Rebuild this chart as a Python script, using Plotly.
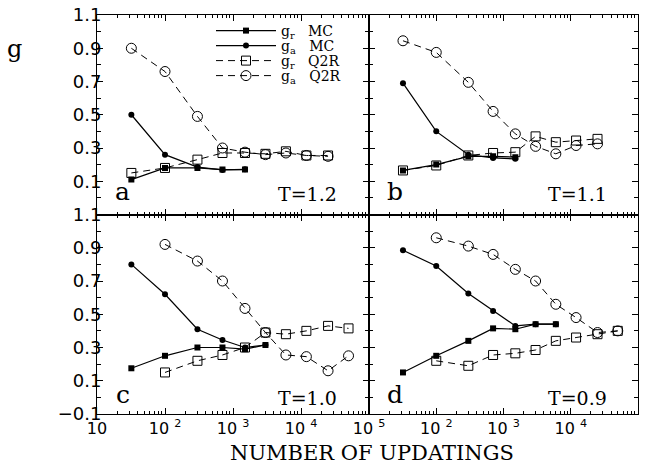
import plotly.graph_objects as go

# ---- data ----
T_MC = [32, 100, 300, 700, 1500, 3000, 6000]
T_Q2R = [32, 100, 300, 700, 1500, 3000, 6000, 12000, 25000, 50000]

a_mc_gr = [0.11, 0.18, 0.18, 0.17, 0.17]
a_mc_ga = [0.50, 0.26, 0.185, 0.168, 0.172]
a_q2r_gr = [0.15, 0.18, 0.23, 0.27, 0.27, 0.265, 0.28, 0.255, 0.255]
a_q2r_ga = [0.90, 0.76, 0.49, 0.30, 0.275, 0.26, 0.27, 0.255, 0.25]

b_mc_gr = [0.165, 0.20, 0.25, 0.25, 0.245]
b_mc_ga = [0.69, 0.40, 0.26, 0.24, 0.235]
b_q2r_gr = [0.165, 0.195, 0.255, 0.27, 0.275, 0.37, 0.335, 0.345, 0.355]
b_q2r_ga = [0.945, 0.875, 0.695, 0.52, 0.385, 0.31, 0.265, 0.315, 0.325]

c_mc_gr = [0.175, 0.25, 0.30, 0.30, 0.29, 0.315]
c_mc_ga = [0.80, 0.62, 0.41, 0.345, 0.30, 0.315]
c_q2r_gr = [0.15, 0.22, 0.255, 0.30, 0.39, 0.38, 0.40, 0.43, 0.415]
c_q2r_ga = [0.92, 0.82, 0.70, 0.535, 0.39, 0.255, 0.245, 0.16, 0.25]

d_mc_gr = [0.15, 0.25, 0.34, 0.415, 0.41, 0.44, 0.44]
d_mc_ga = [0.885, 0.79, 0.625, 0.52, 0.43, 0.44, 0.44]
d_q2r_gr = [0.22, 0.19, 0.255, 0.265, 0.285, 0.34, 0.36, 0.38, 0.40]
d_q2r_ga = [0.96, 0.91, 0.86, 0.77, 0.70, 0.56, 0.48, 0.39, 0.40]

panel_letters = ["a", "b", "c", "d"]
temps = ["T=1.2", "T=1.1", "T=1.0", "T=0.9"]
NB = "\u00a0"
series_names = ["g<sub>r</sub>" + NB * 3 + "MC", "g<sub>a</sub>" + NB * 3 + "MC",
                "g<sub>r</sub>" + NB * 3 + "Q2R", "g<sub>a</sub>" + NB * 3 + "Q2R"]
x_tickvals = [10, 100, 1000, 10000, 100000]
x_ticktext = ["10", "10 <sup>2</sup>", "10 <sup>3</sup>", "10 <sup>4</sup>", "10 <sup>5</sup>"]
y_tickvals = [-0.1, 0.1, 0.3, 0.5, 0.7, 0.9, 1.1]
y_ticktext = ["\u22120.1", "0.1", "0.3", "0.5", "0.7", "0.9", "1.1"]

SERIF = "DejaVu Serif"
SANS = "DejaVu Sans"

panels = [
    (a_mc_gr, a_mc_ga, a_q2r_gr, a_q2r_ga, 0),
    (b_mc_gr, b_mc_ga, b_q2r_gr, b_q2r_ga, 0),
    (c_mc_gr, c_mc_ga, c_q2r_gr, c_q2r_ga, 1),
    (d_mc_gr, d_mc_ga, d_q2r_gr, d_q2r_ga, 1),
]

legend_ids = ["legend", "legend2", "legend3", "legend4"]
styles = [
    dict(line=dict(color="black", width=1.2), marker=dict(symbol="square", size=6, color="black")),
    dict(line=dict(color="black", width=1.2), marker=dict(symbol="circle", size=6, color="black")),
    dict(line=dict(color="black", width=1, dash="7px,5px"),
         marker=dict(symbol="square-open", size=9, color="black", line=dict(width=1, color="black"))),
    dict(line=dict(color="black", width=1, dash="7px,5px"),
         marker=dict(symbol="circle-open", size=10, color="black", line=dict(width=1, color="black"))),
]

fig = go.Figure()
for i, (mgr, mga, qgr, qga, qs) in enumerate(panels):
    xa = "x" if i == 0 else f"x{i+1}"
    ya = "y" if i == 0 else f"y{i+1}"
    tq = T_Q2R[qs:qs + len(qgr)]
    xs = [T_MC[:len(mgr)], T_MC[:len(mga)], tq, tq]
    ys = [mgr, mga, qgr, qga]
    for k in range(4):
        fig.add_trace(go.Scatter(x=xs[k], y=ys[k], mode="lines+markers",
                                 name=series_names[k], showlegend=(i == 0),
                                 legend=legend_ids[k], xaxis=xa, yaxis=ya, **styles[k]))

W = 541.0
H = 399.0
xsplit = 272.0 / W
x_minor = [m * 10 ** e for e in range(1, 5) for m in range(2, 10)]
y_minor = [round(0.2 * k, 2) for k in range(6)]

def xaxis(domain, labels, anchor, ticktext):
    return dict(type="log", range=[1, 5], domain=domain, anchor=anchor, automargin=False,
                showline=True, linecolor="black", linewidth=1, mirror="ticks",
                ticks="inside", ticklen=6, tickwidth=1, tickcolor="black",
                showgrid=False, zeroline=False,
                tickmode="array", tickvals=x_tickvals, ticktext=ticktext,
                showticklabels=labels, ticklabelstandoff=0,
                tickfont=dict(family=SANS, size=16, color="black"),
                minor=dict(ticks="inside", ticklen=3, tickwidth=1, tickcolor="black",
                           tickmode="array", tickvals=x_minor, showgrid=False))

def yaxis(domain, labels, anchor, top):
    tv = y_tickvals[1:] if top else y_tickvals
    tt = y_ticktext[1:] if top else y_ticktext
    return dict(range=[-0.1, 1.1], domain=domain, anchor=anchor, automargin=False,
                showline=True, linecolor="black", linewidth=1, mirror="ticks",
                ticks="inside", ticklen=6, tickwidth=1, tickcolor="black",
                showgrid=False, zeroline=False,
                tickmode="array", tickvals=tv, ticktext=tt,
                showticklabels=labels, ticklabelstandoff=-9,
                tickfont=dict(family=SANS, size=18, color="black"),
                minor=dict(ticks="inside", ticklen=4, tickwidth=1, tickcolor="black",
                           tickmode="array", tickvals=y_minor, showgrid=False))

right_text = [""] + x_ticktext[1:]
fig.update_layout(
    xaxis=xaxis([0, xsplit], False, "y", x_ticktext),
    yaxis=yaxis([0.5, 1], True, "x", True),
    xaxis2=xaxis([xsplit, 1], False, "y2", right_text),
    yaxis2=yaxis([0.5, 1], False, "x2", True),
    xaxis3=xaxis([0, xsplit], True, "y3", x_ticktext),
    yaxis3=yaxis([0, 0.5], True, "x3", False),
    xaxis4=xaxis([xsplit, 1], True, "y4", right_text),
    yaxis4=yaxis([0, 0.5], False, "x4", False),
)

letter_y = [0.035, 0.035, 0.015, 0.015]
temp_y = [0.04, 0.04, 0.015, 0.015]
annotations = []
for i in range(4):
    xr = "x domain" if i == 0 else f"x{i+1} domain"
    yr = "y domain" if i == 0 else f"y{i+1} domain"
    annotations.append(dict(text=panel_letters[i], xref=xr, yref=yr, x=0.095, y=letter_y[i],
                            xanchor="center", yanchor="bottom", showarrow=False,
                            font=dict(family=SERIF, size=25, color="black")))
    annotations.append(dict(text=temps[i], xref=xr, yref=yr, x=0.775, y=temp_y[i],
                            xanchor="center", yanchor="bottom", showarrow=False,
                            font=dict(family=SERIF, size=19, color="black")))
annotations.append(dict(text="g", xref="paper", yref="paper", x=(14 - 97) / W,
                        y=1 - (49 - 15) / H, xanchor="center", yanchor="middle",
                        showarrow=False, font=dict(family=SERIF, size=24, color="black")))
annotations.append(dict(text="NUMBER OF UPDATINGS", xref="paper", yref="paper",
                        x=(372 - 97) / W, y=-(453 - 414) / H, xanchor="center",
                        yanchor="middle", showarrow=False,
                        font=dict(family=SERIF, size=21, color="black")))

legend_rows = [31, 46, 61, 76]
legend_common = dict(xanchor="left", yanchor="middle", bgcolor="rgba(0,0,0,0)",
                     itemwidth=60, font=dict(family=SERIF, size=14, color="black"))
layout_legends = {}
for k, lid in enumerate(legend_ids):
    layout_legends[lid] = dict(x=(211 - 97) / W, y=1 - (legend_rows[k] - 15) / H, **legend_common)

fig.update_layout(
    width=653, height=470,
    margin=dict(l=97, r=15, t=15, b=56),
    paper_bgcolor="white", plot_bgcolor="white",
    annotations=annotations,
    font=dict(family=SERIF, color="black"),
    **layout_legends,
)

fig.write_html("out.html", config={"displayModeBar": False},
               post_script="document.body.style.margin='0';")
